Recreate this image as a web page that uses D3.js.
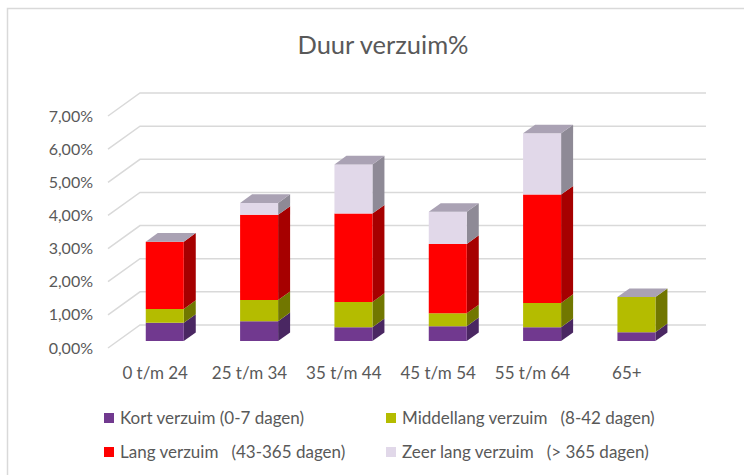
<!DOCTYPE html>
<html>
<head>
<meta charset="utf-8">
<script src="https://cdn.jsdelivr.net/npm/d3@7"></script>
<style>
  body { margin: 0; background: #fff; }
  text { font-family: Lato, "Liberation Sans", sans-serif; fill: #595959; }
</style>
</head>
<body>
<div class="chart"></div>
<script>
var svgWidth = 744;
var svgHeight = 475;

// data (fractions, shown as %)
var categories = ["0 t/m 24", "25 t/m 34", "35 t/m 44", "45 t/m 54", "55 t/m 64", "65+"];
var kort       = [0.0055, 0.0060, 0.0042, 0.0045, 0.0042, 0.0027];
var middellang = [0.0042, 0.0064, 0.0076, 0.0039, 0.0073, 0.0106];
var lang       = [0.0203, 0.0257, 0.0267, 0.0209, 0.0327, 0];
var zeerLang   = [0,      0.0036, 0.0148, 0.0097, 0.0185, 0];
var seriesNames = ["Kort verzuim (0-7 dagen)", "Middellang verzuim   (8-42 dagen)",
                   "Lang verzuim   (43-365 dagen)", "Zeer lang verzuim   (> 365 dagen)"];
var yTicks = [0, 0.01, 0.02, 0.03, 0.04, 0.05, 0.06, 0.07];

var frontColors = ["#71398f", "#b4bc00", "#ff0000", "#e1d8e9"];
var sideColors  = ["#4a2762", "#717700", "#a60000", "#8e8a96"];
var topColor = "#aaa2b4";

// oblique 3d: full depth shifts points by (DX, -DY)
var DX = 32, DY = 23;
var barDepth0 = 0.3, barDepth1 = 0.675;

var svg = d3.select(".chart")
  .append("svg")
  .attr("width", svgWidth)
  .attr("height", svgHeight);

// chart outline
svg.append("path")
  .attr("d", "M7.5,475 V8.5 H744")
  .attr("fill", "none")
  .attr("stroke", "#d9d9d9")
  .attr("stroke-width", 1.5);

var xScale = d3.scaleBand()
  .domain(categories)
  .range([108, 674])
  .paddingInner(0)
  .paddingOuter(0);

var yScale = d3.scaleLinear()
  .domain([0, 0.07])
  .range([348, 116]);

var fmt = d3.formatLocale({ decimal: ",", thousands: ".", grouping: [3], currency: ["€", ""] }).format(".2%");

function proj(x, y, d) {
  return [x + DX * d, y - DY * d];
}

// gridlines: left wall diagonal and back wall
var grid = svg.append("g");
yTicks.forEach(function(t) {
  var y = yScale(t);
  var a = proj(108, y, 0), b = proj(108, y, 1), c = proj(674, y, 1);
  grid.append("path")
    .attr("d", "M" + a + "L" + b + "L" + c)
    .attr("fill", "none")
    .attr("stroke", "#d9d9d9")
    .attr("stroke-width", 1.5);
});

// y axis labels
svg.append("g").selectAll("text")
  .data(yTicks)
  .enter().append("text")
  .attr("x", 93)
  .attr("y", function(d) { return yScale(d); })
  .attr("dy", "0.35em")
  .attr("text-anchor", "end")
  .style("font-size", "16px")
  .text(function(d) { return fmt(d); });

// stack up the series
var series = [kort, middellang, lang, zeerLang];
var barW = 38;
var bars = svg.append("g");

categories.forEach(function(cat, i) {
  var cx = xScale(cat) + xScale.bandwidth() / 2;
  var x0 = cx - barW / 2, x1 = cx + barW / 2;
  var base = 0;
  var lastTop = null;
  series.forEach(function(s, k) {
    var v = s[i];
    if (v <= 0) return;
    var yb = yScale(base), yt = yScale(base + v);
    base += v;
    var fbl = proj(x0, yb, barDepth0), fbr = proj(x1, yb, barDepth0);
    var ftl = proj(x0, yt, barDepth0), ftr = proj(x1, yt, barDepth0);
    var bbr = proj(x1, yb, barDepth1), btr = proj(x1, yt, barDepth1);
    var btl = proj(x0, yt, barDepth1);
    // side
    bars.append("path")
      .attr("d", "M" + fbr + "L" + bbr + "L" + btr + "L" + ftr + "Z")
      .attr("fill", sideColors[k]);
    // front
    bars.append("path")
      .attr("d", "M" + fbl + "L" + fbr + "L" + ftr + "L" + ftl + "Z")
      .attr("fill", frontColors[k]);
    lastTop = [ftl, ftr, btr, btl];
  });
  if (lastTop) {
    bars.append("path")
      .attr("d", "M" + lastTop.join("L") + "Z")
      .attr("fill", topColor);
  }
});

// category labels on the front edge
svg.append("g").selectAll("text")
  .data(categories)
  .enter().append("text")
  .attr("x", function(d) { return xScale(d) + xScale.bandwidth() / 2; })
  .attr("y", 373)
  .attr("dy", "0.35em")
  .attr("text-anchor", "middle")
  .style("font-size", "17px")
  .text(function(d) { return d; });

// title
svg.append("text")
  .attr("x", 383)
  .attr("y", 45)
  .attr("dy", "0.35em")
  .attr("text-anchor", "middle")
  .style("font-size", "25.5px")
  .text("Duur verzuim%");

// legend, two columns
var legendPos = [[104, 418], [386, 418], [104, 452], [386, 452]];
var legend = svg.append("g").selectAll("g")
  .data(seriesNames)
  .enter().append("g")
  .attr("transform", function(d, i) { return "translate(" + legendPos[i][0] + "," + legendPos[i][1] + ")"; });

legend.append("rect")
  .attr("x", 0)
  .attr("y", -5)
  .attr("width", 10)
  .attr("height", 10)
  .attr("fill", function(d, i) { return frontColors[i]; });

legend.append("text")
  .attr("x", 16)
  .attr("y", 0)
  .attr("dy", "0.35em")
  .style("font-size", "17px")
  .style("white-space", "pre")
  .text(function(d) { return d; });
</script>
</body>
</html>
